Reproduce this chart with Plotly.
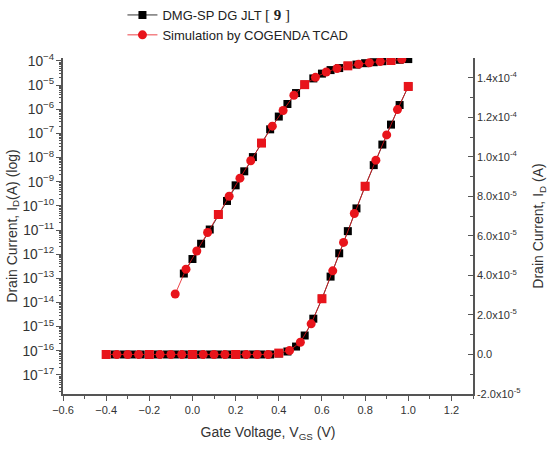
import plotly.graph_objects as go

# ---------------- data ----------------
# log-scale transfer curve (left axis)
v_log_ref = [-0.04, 0.00, 0.04, 0.08, 0.12, 0.16, 0.20, 0.24, 0.28, 0.32, 0.36, 0.40,
             0.44, 0.48, 0.52, 0.56, 0.60, 0.64, 0.68, 0.72, 0.76, 0.80, 0.84, 0.88,
             0.92, 0.96, 1.00]
i_log_ref = [1.58e-13, 6.3e-13, 2.7e-12, 1.05e-11, 4.4e-11, 1.6e-10, 7.1e-10, 2.7e-9,
             1.05e-8, 4.0e-8, 1.48e-7, 5.0e-7, 1.66e-6, 4.7e-6, 1.05e-5, 1.9e-5,
             3.0e-5, 4.2e-5, 5.1e-5, 6.3e-5, 7.1e-5, 8.1e-5, 8.9e-5, 9.8e-5,
             1.05e-4, 1.12e-4, 1.2e-4]

v_log_sim = [-0.08, -0.03, 0.02, 0.07, 0.12, 0.17, 0.22, 0.27, 0.32, 0.37, 0.42, 0.47,
             0.52, 0.57, 0.62, 0.67, 0.72, 0.77, 0.82, 0.87, 0.92, 0.97]
i_log_sim = [2.24e-14, 2.4e-13, 1.35e-12, 7.9e-12, 4.4e-11, 2.5e-10, 1.41e-9, 7.4e-9,
             4.0e-8, 2.0e-7, 8.9e-7, 3.8e-6, 1.05e-5, 2.1e-5, 3.5e-5, 4.9e-5,
             6.3e-5, 7.4e-5, 8.5e-5, 9.5e-5, 1.05e-4, 1.17e-4]

# linear-scale transfer curve (right axis)
v_lin_ref = [-0.40, -0.36, -0.32, -0.28, -0.24, -0.20, -0.16, -0.12, -0.08, -0.04,
             0.00, 0.04, 0.08, 0.12, 0.16, 0.20, 0.24, 0.28, 0.32, 0.36, 0.40, 0.44,
             0.48, 0.52, 0.56, 0.60, 0.64, 0.68, 0.72, 0.76, 0.80, 0.84, 0.88, 0.92,
             0.96, 1.00]
i_lin_ref = [0.0, 0.0, 0.0, 0.0, 0.0, 0.0, 0.0, 0.0, 0.0, 0.0,
             0.0, 0.0, 0.0, 0.0, 0.0, 0.0, 0.0, 0.0, 0.0, 0.0, 0.05e-5, 0.15e-5,
             0.40e-5, 0.96e-5, 1.81e-5, 2.82e-5, 3.94e-5, 5.12e-5, 6.24e-5, 7.39e-5,
             8.51e-5, 9.58e-5, 10.62e-5, 11.63e-5, 12.62e-5, 13.56e-5]

v_lin_sim = [-0.40, -0.35, -0.30, -0.25, -0.20, -0.15, -0.10, -0.05, 0.00, 0.05, 0.10,
             0.15, 0.20, 0.25, 0.30, 0.35, 0.40, 0.45, 0.50, 0.55, 0.60, 0.65, 0.70,
             0.75, 0.80, 0.85, 0.90, 0.95, 1.00]
i_lin_sim = [0.0, 0.0, 0.0, 0.0, 0.0, 0.0, 0.0, 0.0, 0.0, 0.0, 0.0,
             0.0, 0.0, 0.0, 0.0, 0.0, 0.07e-5, 0.20e-5, 0.62e-5, 1.55e-5, 2.82e-5,
             4.23e-5, 5.67e-5, 7.13e-5, 8.51e-5, 9.83e-5, 11.11e-5, 12.39e-5, 13.56e-5]

name_ref = "DMG-SP DG JLT <span style='font-family:Liberation Serif, Times New Roman, serif;font-size:15px'>[ <b>9</b> ]</span>"
name_sim = "Simulation by COGENDA TCAD"

right_tickvals = [-2e-5, 0.0, 2e-5, 4e-5, 6e-5, 8e-5, 1.0e-4, 1.2e-4, 1.4e-4]
right_ticktext = ["-2.0x10<sup>-5</sup>", "0.0", "2.0x10<sup>-5</sup>", "4.0x10<sup>-5</sup>",
                  "6.0x10<sup>-5</sup>", "8.0x10<sup>-5</sup>", "1.0x10<sup>-4</sup>",
                  "1.2x10<sup>-4</sup>", "1.4x10<sup>-4</sup>"]

# ---------------- styling helpers ----------------
def sim_symbols(v_sim, v_ref):
    # where the two data sets coincide the simulation marker appears square
    return ["square" if any(abs(a - b) < 1e-6 for b in v_ref) else "circle" for a in v_sim]

BLACK = "#000000"
RED = "#e8141b"
AXC = "#555555"
FONT = "Arial, Liberation Sans, sans-serif"

fig = go.Figure()
fig.add_trace(go.Scatter(x=v_log_ref, y=i_log_ref, yaxis="y", mode="lines+markers", name=name_ref,
                         line=dict(color=BLACK, width=0.8),
                         marker=dict(symbol="square", size=8, color=BLACK)))
fig.add_trace(go.Scatter(x=v_log_sim, y=i_log_sim, yaxis="y", mode="lines+markers", name=name_sim,
                         line=dict(color=RED, width=0.8),
                         marker=dict(symbol=sim_symbols(v_log_sim, v_log_ref), size=9, color=RED)))
fig.add_trace(go.Scatter(x=v_lin_ref, y=i_lin_ref, yaxis="y2", mode="lines+markers", showlegend=False,
                         line=dict(color=BLACK, width=0.8),
                         marker=dict(symbol="square", size=8, color=BLACK)))
fig.add_trace(go.Scatter(x=v_lin_sim, y=i_lin_sim, yaxis="y2", mode="lines+markers", showlegend=False,
                         line=dict(color=RED, width=0.8),
                         marker=dict(symbol=sim_symbols(v_lin_sim, v_lin_ref), size=9, color=RED)))

fig.update_layout(
    width=548, height=449,
    margin=dict(l=63, r=75, t=58, b=55, autoexpand=False),
    paper_bgcolor="white", plot_bgcolor="white",
    font=dict(family=FONT, size=11, color="#333333"),
    showlegend=True,
    legend=dict(x=0.145, y=1.0, xanchor="left", yanchor="top", yref="container",
                bgcolor="rgba(0,0,0,0)", font=dict(size=13, color="#222222"),
                itemwidth=30, tracegroupgap=0),
    xaxis=dict(range=[-0.6, 1.3], dtick=0.2, tick0=0, tickformat=".1f", automargin=False,
               showline=True, linecolor=AXC, linewidth=1.5, mirror=False,
               ticks="outside", ticklen=5, tickcolor=AXC, showgrid=False, zeroline=False,
               minor=dict(dtick=0.1, ticks="outside", ticklen=3, tickcolor=AXC),
               title=dict(text="Gate Voltage, V<sub>GS</sub> (V)", font=dict(size=14, color="#333333"), standoff=12)),
    yaxis=dict(type="log", range=[-17.79, -3.876], dtick=1, exponentformat="power", automargin=False,
               showline=True, linecolor=AXC, linewidth=1.5,
               ticks="outside", ticklen=5, tickcolor=AXC, showgrid=False, zeroline=False,
               minor=dict(dtick="D1", ticks="outside", ticklen=2, tickcolor=AXC),
               title=dict(text="Drain Current, I<sub>D</sub>(A) (log)", font=dict(size=14, color="#333333"), standoff=2)),
    yaxis2=dict(overlaying="y", side="right", anchor="x", range=[-2e-5, 1.5e-4], automargin=False,
                tickvals=right_tickvals, ticktext=right_ticktext,
                showline=True, linecolor=AXC, linewidth=1.5,
                ticks="inside", ticklen=5, tickcolor=AXC, showgrid=False, zeroline=False,
                minor=dict(dtick=1e-5, tick0=0, ticks="inside", ticklen=3, tickcolor=AXC),
                title=dict(text="Drain Current, I<sub>D</sub> (A)", font=dict(size=14, color="#333333"), standoff=20)),
)

fig.write_html("out.html")
